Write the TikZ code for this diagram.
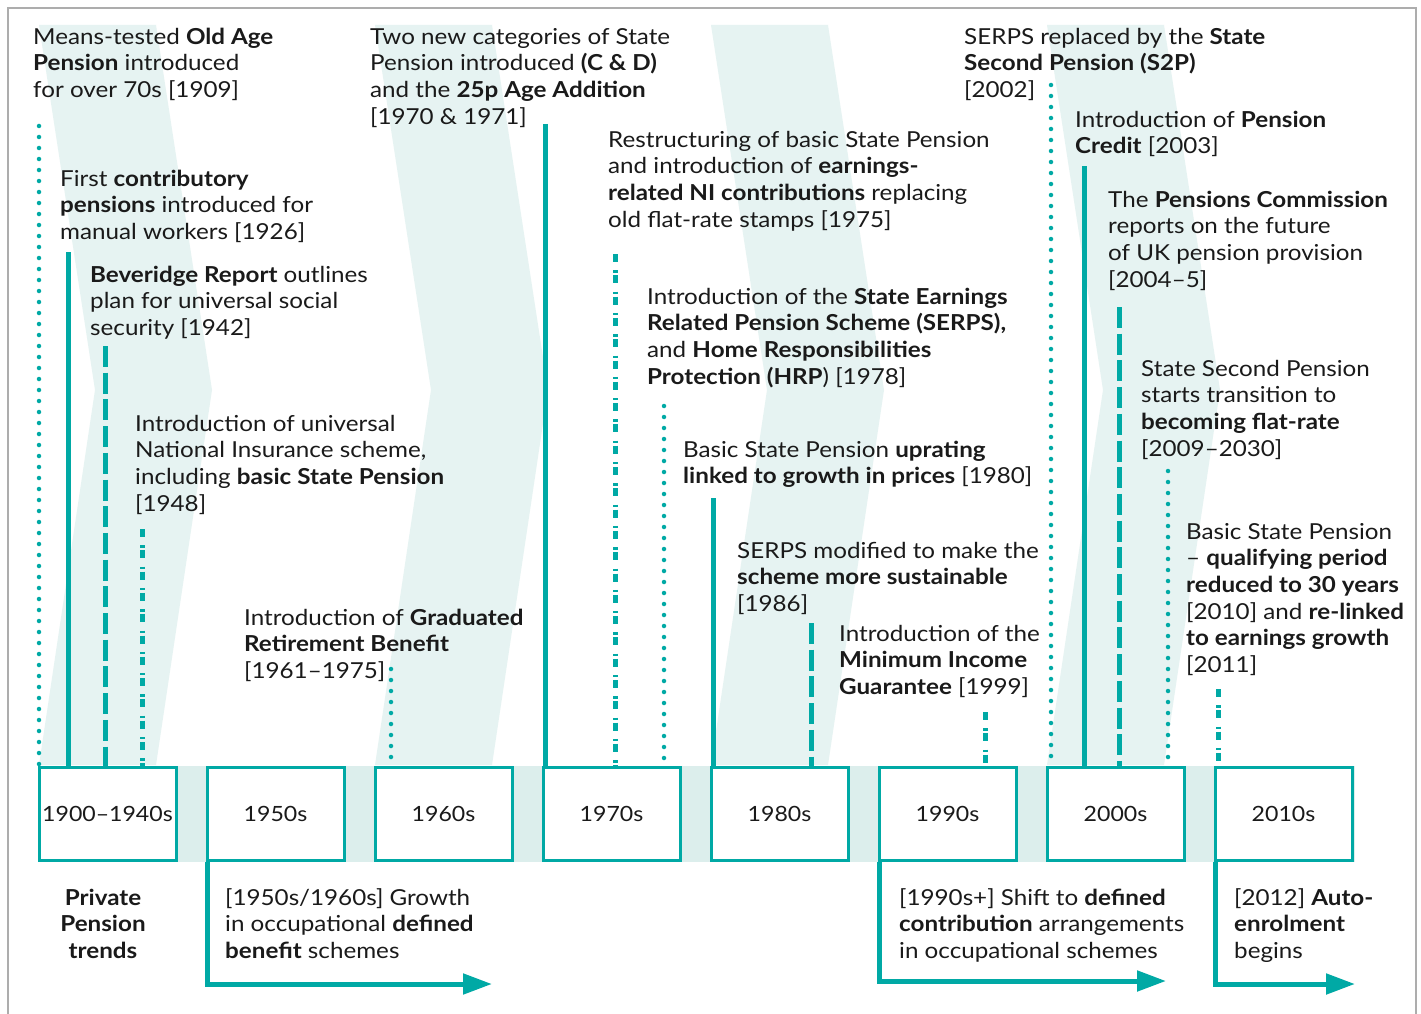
\documentclass[tikz,border=0pt]{standalone}
\usepackage{fontspec}
\setmainfont{Lato}[FakeStretch=1.1]
\usetikzlibrary{arrows.meta}
\definecolor{tealc}{HTML}{00A9A5}
\definecolor{chevc}{HTML}{E6F3F2}
\definecolor{bandc}{HTML}{DCEEEC}
\definecolor{framec}{HTML}{ADADAD}
\definecolor{txtc}{HTML}{1A1A1A}
\newcommand{\evfont}{\fontsize{22}{26.6}\selectfont}
\newcommand{\boxfont}{\fontsize{21}{25}\selectfont}
\begin{document}
\begin{tikzpicture}[x=1pt,y=-1pt,
  evt/.style={anchor=north west, inner sep=0pt, align=left, font=\evfont, text=txtc},
  evc/.style={anchor=north, inner sep=0pt, align=center, font=\evfont, text=txtc},
  decbox/.style={draw=tealc, line width=3pt, fill=white, minimum width=137pt, minimum height=93pt, inner sep=0pt, font=\boxfont, text=txtc},
  lnsolid/.style={draw=tealc, line width=5pt},
  lndot/.style={draw=tealc, line width=4.5pt, line cap=round, dash pattern=on 0pt off 11pt},
  lndash/.style={draw=tealc, line width=5pt, dash pattern=on 21pt off 5.7pt},
  lndashdot/.style={draw=tealc, line width=5pt, dash pattern=on 8pt off 8.3pt on 2.3pt off 2.7pt},
  trend/.style={draw=tealc, line width=5pt, -{Triangle[length=29pt,width=20pt]}},
  chev/.style={fill=chevc, draw=none}
]
\useasboundingbox (0,0) rectangle (1421,1014);
\fill[white] (0,0) rectangle (1421,1014);
% background chevrons
\foreach \k in {0,1,2,3} {
  \pgfmathsetmacro{\xo}{39+336*\k}
  \fill[chev] (\xo,25) -- ++(117,0) -- ++(56,365) -- ++(-56,375) -- ++(-117,0) -- ++(56,-375) -- cycle;
}
% band behind boxes
\fill[bandc] (37.5,766) rectangle (1355,862);
% frame
\draw[framec, line width=2.5pt] (8,1014) -- (8,8) -- (1416,8) -- (1416,1014);

% decade boxes
\node[decbox] (b1) at (107.5,814) {1900–1940s};
\node[decbox] (b2) at (275.5,814) {1950s};
\node[decbox] (b3) at (443.5,814) {1960s};
\node[decbox] (b4) at (611.5,814) {1970s};
\node[decbox] (b5) at (779.5,814) {1980s};
\node[decbox] (b6) at (947.5,814) {1990s};
\node[decbox] (b7) at (1115.5,814) {2000s};
\node[decbox] (b8) at (1283.5,814) {2010s};

% event texts
\node[evt] (e1) at (33,25.4) {\strut Means-tested \textbf{Old Age}\\\textbf{Pension} introduced\\for over 70s [1909]};
\node[evt] (e2) at (60,167.4) {\strut First \textbf{contributory}\\\textbf{pensions} introduced for\\manual workers [1926]};
\node[evt] (e3) at (90,263.4) {\strut\textbf{Beveridge Report} outlines\\plan for universal social\\security [1942]};
\node[evt] (e4) at (135,412.4) {\strut Introduction of universal\\National Insurance scheme,\\including \textbf{basic State Pension}\\{[1948]}};
\node[evt] (e5) at (244,606.4) {\strut Introduction of \textbf{Graduated}\\\textbf{Retirement Benefit}\\{[1961–1975]}};
\node[evt] (e6) at (370,25.4) {\strut Two new categories of State\\Pension introduced \textbf{(C \& D)}\\and the \textbf{25p Age Addition}\\{[1970 \& 1971]}};
\node[evt] (e7) at (608,128.4) {\strut Restructuring of basic State Pension\\and introduction of \textbf{earnings-}\\\textbf{related NI contributions} replacing\\old flat-rate stamps [1975]};
\node[evt] (e8) at (647,285.4) {\strut Introduction of the \textbf{State Earnings}\\\textbf{Related Pension Scheme (SERPS),}\\and \textbf{Home Responsibilities}\\\textbf{Protection (HRP}) [1978]};
\node[evt] (e9) at (683,438.4) {\strut Basic State Pension \textbf{uprating}\\\textbf{linked to growth in prices} [1980]};
\node[evt] (e10) at (737,539.4) {\strut SERPS modified to make the\\\textbf{scheme more sustainable}\\{[1986]}};
\node[evt] (e11) at (839,622.4) {\strut Introduction of the\\\textbf{Minimum Income}\\\textbf{Guarantee} [1999]};
\node[evt] (e12) at (964,25.4) {\strut SERPS replaced by the \textbf{State}\\\textbf{Second Pension (S2P)}\\{[2002]}};
\node[evt] (e13) at (1075,108.4) {\strut Introduction of \textbf{Pension}\\\textbf{Credit} [2003]};
\node[evt] (e14) at (1108,188.4) {\strut The \textbf{Pensions Commission}\\reports on the future\\of UK pension provision\\{[2004–5]}};
\node[evt] (e15) at (1141,357.4) {\strut State Second Pension\\starts transition to\\\textbf{becoming flat-rate}\\{[2009–2030]}};
\node[evt] (e16) at (1186,520.4) {\strut Basic State Pension\\– \textbf{qualifying period}\\\textbf{reduced to 30 years}\\{[2010]} and \textbf{re-linked}\\\textbf{to earnings growth}\\{[2011]}};

% connector tops
\coordinate (t1) at (39,126);
\coordinate (t2) at (68,252);
\coordinate (t3) at (105,346);
\coordinate (t4) at (142,529);
\coordinate (t5) at (391,669);
\coordinate (t6) at (545,124);
\coordinate (t7) at (615,254);
\coordinate (t8) at (664,406);
\coordinate (t9) at (713,498);
\coordinate (t10) at (811,623);
\coordinate (t11) at (985,712);
\coordinate (t12) at (1051,85);
\coordinate (t13) at (1084,166);
\coordinate (t14) at (1119,307);
\coordinate (t15) at (1168,471);
\coordinate (t16) at (1218,689);

\draw[lndot] (t1) -- (t1 |- b1.north);
\draw[lnsolid] (t2) -- (t2 |- b1.north);
\draw[lndash] (t3) -- (t3 |- b1.north);
\draw[lndashdot] (t4) -- (t4 |- b1.north);
\draw[lndot] (t5) -- (t5 |- b3.north);
\draw[lnsolid] (t6) -- (t6 |- b4.north);
\draw[lndashdot] (t7) -- (t7 |- b4.north);
\draw[lndot] (t8) -- (t8 |- b4.north);
\draw[lnsolid] (t9) -- (t9 |- b5.north);
\draw[lndash] (t10) -- (t10 |- b5.north);
\draw[lndashdot] (t11) -- (t11 |- b6.north);
\draw[lndot] (t12) -- (t12 |- b7.north);
\draw[lnsolid] (t13) -- (t13 |- b7.north);
\draw[lndash] (t14) -- (t14 |- b7.north);
\draw[lndot] (t15) -- (t15 |- b7.north);
\draw[lndashdot] (t16) -- (t16 |- b8.north);

% private pension trends
\node[evc] (p0) at (103,886.4) {\strut\textbf{Private}\\\textbf{Pension}\\\textbf{trends}};
\node[evt] (p1) at (225,886.4) {\strut{[1950s/1960s]} Growth\\in occupational \textbf{defined}\\\textbf{benefit} schemes};
\node[evt] (p2) at (899,886.4) {\strut{[1990s+]} Shift to \textbf{defined}\\\textbf{contribution} arrangements\\in occupational schemes};
\node[evt] (p3) at (1234,886.4) {\strut{[2012]} \textbf{Auto-}\\\textbf{enrolment}\\begins};

\coordinate (r1) at (492,984);
\coordinate (r2) at (1166,981);
\coordinate (r3) at (1355,984);
\draw[trend] ([xshift=2pt]b2.south west) |- (r1);
\draw[trend] ([xshift=2pt]b6.south west) |- (r2);
\draw[trend] ([xshift=2pt]b8.south west) |- (r3);
\end{tikzpicture}
\end{document}
